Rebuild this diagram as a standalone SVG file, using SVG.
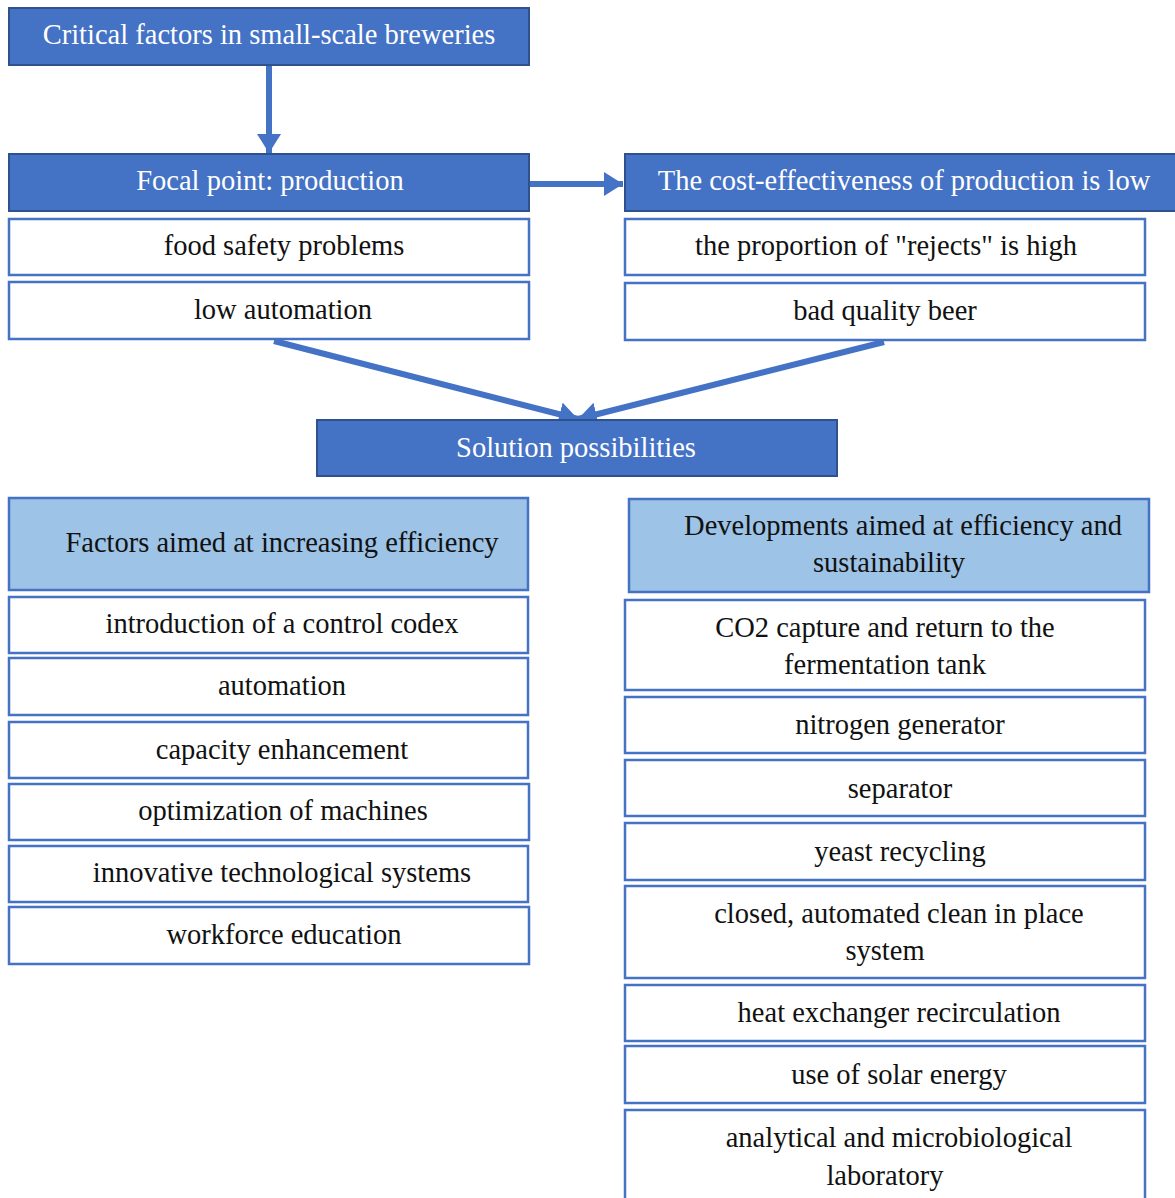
<svg xmlns="http://www.w3.org/2000/svg" width="1175" height="1198" viewBox="0 0 1175 1198">
<style>
.dark{fill:#4472C4;stroke:#2F528F;stroke-width:2}
.light{fill:#9DC3E6;stroke:#4472C4;stroke-width:2.5}
.white{fill:#FFFFFF;stroke:#4472C4;stroke-width:2.5}
text{font-family:"Liberation Serif","Times New Roman",serif;font-size:28.5px;text-anchor:middle}
.wt{fill:#FFFFFF}
.bt{fill:#111111}
.conn{stroke:#4472C4;stroke-width:6;fill:none}
</style>
<defs>
<marker id="ah" markerUnits="userSpaceOnUse" markerWidth="24" markerHeight="26" refX="19" refY="12" orient="auto">
<path d="M0,0 L19,12 L0,24 z" fill="#4472C4"/>
</marker>
</defs>
<rect width="1175" height="1198" fill="#FFFFFF"/>
<g id="connectors">
<line class="conn" x1="269" y1="65" x2="269" y2="153" marker-end="url(#ah)"/>
<line class="conn" x1="529" y1="184" x2="623" y2="184" marker-end="url(#ah)"/>
<line class="conn" x1="274" y1="341" x2="578" y2="419" marker-end="url(#ah)"/>
<line class="conn" x1="884" y1="342" x2="578" y2="419" marker-end="url(#ah)"/>
</g>
<g id="n-critical"><rect class="dark" x="9" y="8" width="520" height="57"/><text class="wt" x="269" y="44">Critical factors in small-scale breweries</text></g>
<g id="n-focal"><rect class="dark" x="9" y="154" width="520" height="57"/><text class="wt" x="270" y="190">Focal point: production</text></g>
<g id="n-cost"><rect class="dark" x="625" y="154" width="560" height="57"/><text class="wt" x="904" y="190">The cost-effectiveness of production is low</text></g>
<g id="n-food"><rect class="white" x="9" y="219" width="520" height="56"/><text class="bt" x="284" y="255">food safety problems</text></g>
<g id="n-lowauto"><rect class="white" x="9" y="282" width="520" height="57"/><text class="bt" x="283" y="319">low automation</text></g>
<g id="n-rejects"><rect class="white" x="625" y="219" width="520" height="56"/><text class="bt" x="886" y="255">the proportion of "rejects" is high</text></g>
<g id="n-badbeer"><rect class="white" x="625" y="283" width="520" height="57"/><text class="bt" x="885" y="320">bad quality beer</text></g>
<g id="n-solution"><rect class="dark" x="317" y="420" width="520" height="56"/><text class="wt" x="576" y="457">Solution possibilities</text></g>
<g id="n-factors"><rect class="light" x="9" y="498" width="519" height="92"/><text class="bt" x="282" y="552">Factors aimed at increasing efficiency</text></g>
<g id="n-codex"><rect class="white" x="9" y="597" width="519" height="56"/><text class="bt" x="282" y="633">introduction of a control codex</text></g>
<g id="n-automation"><rect class="white" x="9" y="658" width="519" height="57"/><text class="bt" x="282" y="695">automation</text></g>
<g id="n-capacity"><rect class="white" x="9" y="722" width="519" height="56"/><text class="bt" x="282" y="759">capacity enhancement</text></g>
<g id="n-optim"><rect class="white" x="9" y="784" width="520" height="56"/><text class="bt" x="283" y="820">optimization of machines</text></g>
<g id="n-innov"><rect class="white" x="9" y="846" width="519" height="56"/><text class="bt" x="282" y="882">innovative technological systems</text></g>
<g id="n-workforce"><rect class="white" x="9" y="907" width="520" height="57"/><text class="bt" x="284" y="944">workforce education</text></g>
<g id="n-dev"><rect class="light" x="629" y="499" width="520" height="93"/><text class="bt" x="903" y="535">Developments aimed at efficiency and</text><text class="bt" x="889" y="572">sustainability</text></g>
<g id="n-co2"><rect class="white" x="625" y="600" width="520" height="90"/><text class="bt" x="885" y="637">CO2 capture and return to the</text><text class="bt" x="885" y="674">fermentation tank</text></g>
<g id="n-nitrogen"><rect class="white" x="625" y="697" width="520" height="56"/><text class="bt" x="900" y="734">nitrogen generator</text></g>
<g id="n-separator"><rect class="white" x="625" y="760" width="520" height="56"/><text class="bt" x="900" y="798">separator</text></g>
<g id="n-yeast"><rect class="white" x="625" y="823" width="520" height="57"/><text class="bt" x="900" y="861">yeast recycling</text></g>
<g id="n-cip"><rect class="white" x="625" y="886" width="520" height="92"/><text class="bt" x="899" y="923">closed, automated clean in place</text><text class="bt" x="885" y="960">system</text></g>
<g id="n-heat"><rect class="white" x="625" y="985" width="520" height="56"/><text class="bt" x="899" y="1022">heat exchanger recirculation</text></g>
<g id="n-solar"><rect class="white" x="625" y="1046" width="520" height="57"/><text class="bt" x="899" y="1084">use of solar energy</text></g>
<g id="n-lab"><rect class="white" x="625" y="1110" width="520" height="100"/><text class="bt" x="899" y="1147">analytical and microbiological</text><text class="bt" x="885" y="1185">laboratory</text></g>
</svg>
